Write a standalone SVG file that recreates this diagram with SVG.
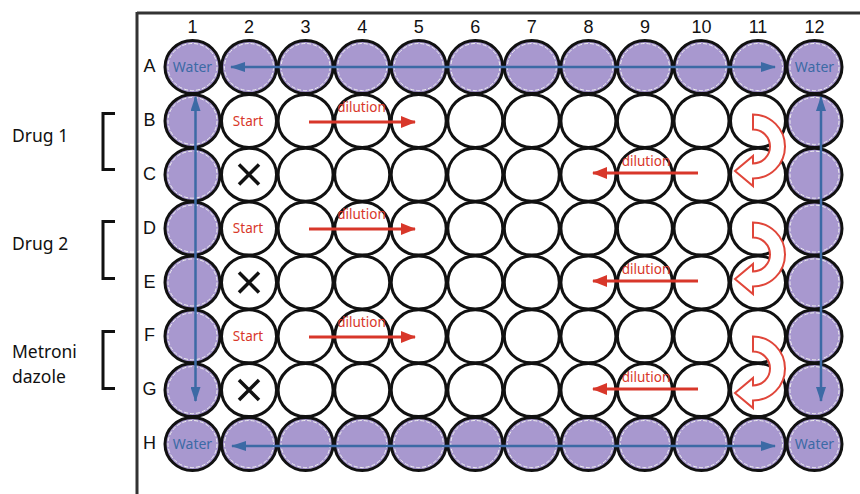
<svg xmlns="http://www.w3.org/2000/svg" width="860" height="494" viewBox="0 0 860 494">
<defs>
<style>
.o{fill:none;stroke:#111;stroke-width:3}
.p{fill:#a898cf;stroke:none}
.ring{fill:none;stroke:#eee;stroke-width:1;stroke-dasharray:4 2}
.hdr{font-family:"Liberation Sans",Arial,sans-serif;font-size:18px;fill:#111;text-anchor:middle}
.water{font-family:"Noto Sans",sans-serif;font-size:14px;fill:#3c6aa5;text-anchor:middle}
.start{font-family:"Noto Sans",sans-serif;font-size:13.5px;fill:#d8372a;text-anchor:middle}
.dil{font-family:"Noto Sans",sans-serif;font-size:13.5px;fill:#d8372a;text-anchor:middle}
.lbl{font-family:"Noto Sans",sans-serif;font-size:17.5px;fill:#111}
.blue{stroke:#3c6aa5;stroke-width:2.5;fill:none}
.red{stroke:#d8372a;stroke-width:3;fill:none}
.x{stroke:#111;stroke-width:3.5;stroke-linecap:butt;fill:none}
.brk{fill:none;stroke:#111;stroke-width:3}
.curl{fill:#fff;stroke:#e0463a;stroke-width:2}
</style>
<marker id="bh" viewBox="0 0 15 10" refX="14" refY="5" markerWidth="15" markerHeight="10" markerUnits="userSpaceOnUse" orient="auto-start-reverse"><path d="M0,0 L15,5 L0,10 z" fill="#3c6aa5"/></marker>
<marker id="rh" viewBox="0 0 15 12" refX="14" refY="6" markerWidth="15" markerHeight="12" markerUnits="userSpaceOnUse" orient="auto"><path d="M0,0 L15,6 L0,12 z" fill="#d8372a"/></marker>
<path id="curlp" d="M753 114.5 A32 32 0 0 1 753 178.5 L753 186 L735 171 L753 156 L753 163.5 A17 17 0 0 0 753 129.5 Z"/>
<g id="rowshape">
<ellipse cx="192.5" cy="0" rx="27.5" ry="26.5"/><ellipse cx="249" cy="0" rx="27.5" ry="26.5"/><ellipse cx="305.6" cy="0" rx="27.5" ry="26.5"/><ellipse cx="362.2" cy="0" rx="27.5" ry="26.5"/><ellipse cx="418.7" cy="0" rx="27.5" ry="26.5"/><ellipse cx="475.3" cy="0" rx="27.5" ry="26.5"/><ellipse cx="531.8" cy="0" rx="27.5" ry="26.5"/><ellipse cx="588.4" cy="0" rx="27.5" ry="26.5"/><ellipse cx="644.9" cy="0" rx="27.5" ry="26.5"/><ellipse cx="701.5" cy="0" rx="27.5" ry="26.5"/><ellipse cx="758" cy="0" rx="27.5" ry="26.5"/><ellipse cx="814.5" cy="0" rx="27.5" ry="26.5"/>
</g>
<g id="rowring">
<ellipse cx="192.5" cy="0" rx="24.5" ry="23.5"/><ellipse cx="249" cy="0" rx="24.5" ry="23.5"/><ellipse cx="305.6" cy="0" rx="24.5" ry="23.5"/><ellipse cx="362.2" cy="0" rx="24.5" ry="23.5"/><ellipse cx="418.7" cy="0" rx="24.5" ry="23.5"/><ellipse cx="475.3" cy="0" rx="24.5" ry="23.5"/><ellipse cx="531.8" cy="0" rx="24.5" ry="23.5"/><ellipse cx="588.4" cy="0" rx="24.5" ry="23.5"/><ellipse cx="644.9" cy="0" rx="24.5" ry="23.5"/><ellipse cx="701.5" cy="0" rx="24.5" ry="23.5"/><ellipse cx="758" cy="0" rx="24.5" ry="23.5"/><ellipse cx="814.5" cy="0" rx="24.5" ry="23.5"/>
</g>
</defs>
<rect width="860" height="494" fill="#fff"/>
<g id="plate-border" fill="none" stroke="#333" stroke-width="3">
<line x1="137" y1="13" x2="860" y2="13"/>
<line x1="137" y1="12" x2="137" y2="494"/>
</g>
<g id="column-labels" class="hdr">
<text x="192.5" y="33">1</text><text x="249" y="33">2</text><text x="305.6" y="33">3</text><text x="362.2" y="33">4</text><text x="418.7" y="33">5</text><text x="475.3" y="33">6</text><text x="531.8" y="33">7</text><text x="588.4" y="33">8</text><text x="644.9" y="33">9</text><text x="701.5" y="33">10</text><text x="758" y="33">11</text><text x="814.5" y="33">12</text>
</g>
<g id="row-labels" class="hdr">
<text x="149.5" y="72">A</text><text x="149.5" y="126">B</text><text x="149.5" y="180">C</text><text x="149.5" y="234">D</text><text x="149.5" y="288">E</text><text x="149.5" y="341">F</text><text x="149.5" y="395">G</text><text x="149.5" y="449">H</text>
</g>
<g id="water-wells">
<use class="p" href="#rowshape" transform="translate(0,67)"/>
<use class="p" href="#rowshape" transform="translate(0,444)"/>
<g class="p">
<ellipse cx="192.5" cy="120.9" rx="27.5" ry="26.5"/><ellipse cx="192.5" cy="174.7" rx="27.5" ry="26.5"/><ellipse cx="192.5" cy="228.6" rx="27.5" ry="26.5"/><ellipse cx="192.5" cy="282.4" rx="27.5" ry="26.5"/><ellipse cx="192.5" cy="336.3" rx="27.5" ry="26.5"/><ellipse cx="192.5" cy="390.1" rx="27.5" ry="26.5"/>
<ellipse cx="814.5" cy="120.9" rx="27.5" ry="26.5"/><ellipse cx="814.5" cy="174.7" rx="27.5" ry="26.5"/><ellipse cx="814.5" cy="228.6" rx="27.5" ry="26.5"/><ellipse cx="814.5" cy="282.4" rx="27.5" ry="26.5"/><ellipse cx="814.5" cy="336.3" rx="27.5" ry="26.5"/><ellipse cx="814.5" cy="390.1" rx="27.5" ry="26.5"/>
</g>
<use class="ring" href="#rowring" transform="translate(0,67)"/>
<use class="ring" href="#rowring" transform="translate(0,444)"/>
<g class="ring">
<ellipse cx="192.5" cy="120.9" rx="24.5" ry="23.5"/><ellipse cx="192.5" cy="174.7" rx="24.5" ry="23.5"/><ellipse cx="192.5" cy="228.6" rx="24.5" ry="23.5"/><ellipse cx="192.5" cy="282.4" rx="24.5" ry="23.5"/><ellipse cx="192.5" cy="336.3" rx="24.5" ry="23.5"/><ellipse cx="192.5" cy="390.1" rx="24.5" ry="23.5"/>
<ellipse cx="814.5" cy="120.9" rx="24.5" ry="23.5"/><ellipse cx="814.5" cy="174.7" rx="24.5" ry="23.5"/><ellipse cx="814.5" cy="228.6" rx="24.5" ry="23.5"/><ellipse cx="814.5" cy="282.4" rx="24.5" ry="23.5"/><ellipse cx="814.5" cy="336.3" rx="24.5" ry="23.5"/><ellipse cx="814.5" cy="390.1" rx="24.5" ry="23.5"/>
</g>
</g>
<g id="well-outlines">
<use id="row-A" class="o" href="#rowshape" transform="translate(0,67)"/>
<use id="row-B" class="o" href="#rowshape" transform="translate(0,120.9)"/>
<use id="row-C" class="o" href="#rowshape" transform="translate(0,174.7)"/>
<use id="row-D" class="o" href="#rowshape" transform="translate(0,228.6)"/>
<use id="row-E" class="o" href="#rowshape" transform="translate(0,282.4)"/>
<use id="row-F" class="o" href="#rowshape" transform="translate(0,336.3)"/>
<use id="row-G" class="o" href="#rowshape" transform="translate(0,390.1)"/>
<use id="row-H" class="o" href="#rowshape" transform="translate(0,444)"/>
</g>
<g id="well-texts">
<text class="water" x="192.5" y="72">Water</text>
<text class="water" x="814.5" y="72">Water</text>
<text class="water" x="192.5" y="449">Water</text>
<text class="water" x="814.5" y="449">Water</text>
<text class="start" x="248" y="125.5">Start</text>
<text class="start" x="248" y="233">Start</text>
<text class="start" x="248" y="341">Start</text>
</g>
<g id="x-marks" class="x">
<path d="M239 164.5 L259 184.5 M259 164.5 L239 184.5"/>
<path d="M239 272.5 L259 292.5 M259 272.5 L239 292.5"/>
<path d="M239 380 L259 400 M259 380 L239 400"/>
</g>
<g id="connectors">
<line class="blue" x1="231" y1="67" x2="775" y2="67" marker-start="url(#bh)" marker-end="url(#bh)"/>
<line class="blue" x1="232" y1="446" x2="775" y2="446" marker-start="url(#bh)" marker-end="url(#bh)"/>
<line class="blue" x1="195.5" y1="97" x2="195.5" y2="401" marker-start="url(#bh)" marker-end="url(#bh)"/>
<line class="blue" x1="821" y1="97" x2="821" y2="401" marker-start="url(#bh)" marker-end="url(#bh)"/>
<line class="red" x1="309" y1="122" x2="415" y2="122" marker-end="url(#rh)"/>
<line class="red" x1="309" y1="229" x2="415" y2="229" marker-end="url(#rh)"/>
<line class="red" x1="309" y1="337" x2="415" y2="337" marker-end="url(#rh)"/>
<line class="red" x1="698" y1="173" x2="593" y2="173" marker-end="url(#rh)"/>
<line class="red" x1="698" y1="281" x2="593" y2="281" marker-end="url(#rh)"/>
<line class="red" x1="698" y1="389" x2="593" y2="389" marker-end="url(#rh)"/>
<use class="curl" href="#curlp"/>
<use class="curl" href="#curlp" transform="translate(0,108)"/>
<use class="curl" href="#curlp" transform="translate(0,222)"/>
</g>
<g id="dilution-labels" class="dil">
<text x="361.5" y="112">dilution</text>
<text x="361.5" y="219">dilution</text>
<text x="361.5" y="327">dilution</text>
<text x="646" y="166">dilution</text>
<text x="646" y="274">dilution</text>
<text x="646" y="382">dilution</text>
</g>
<g id="drug1"><text class="lbl" x="12" y="142">Drug 1</text><path class="brk" d="M115 113.5 H103 V169.5 H115"/></g>
<g id="drug2"><text class="lbl" x="12" y="250">Drug 2</text><path class="brk" d="M115 221.5 H103 V278.5 H115"/></g>
<g id="metronidazole"><text class="lbl" x="12" y="358">Metroni</text><text class="lbl" x="12" y="383">dazole</text><path class="brk" d="M115 331.5 H103 V388.5 H115"/></g>
</svg>
